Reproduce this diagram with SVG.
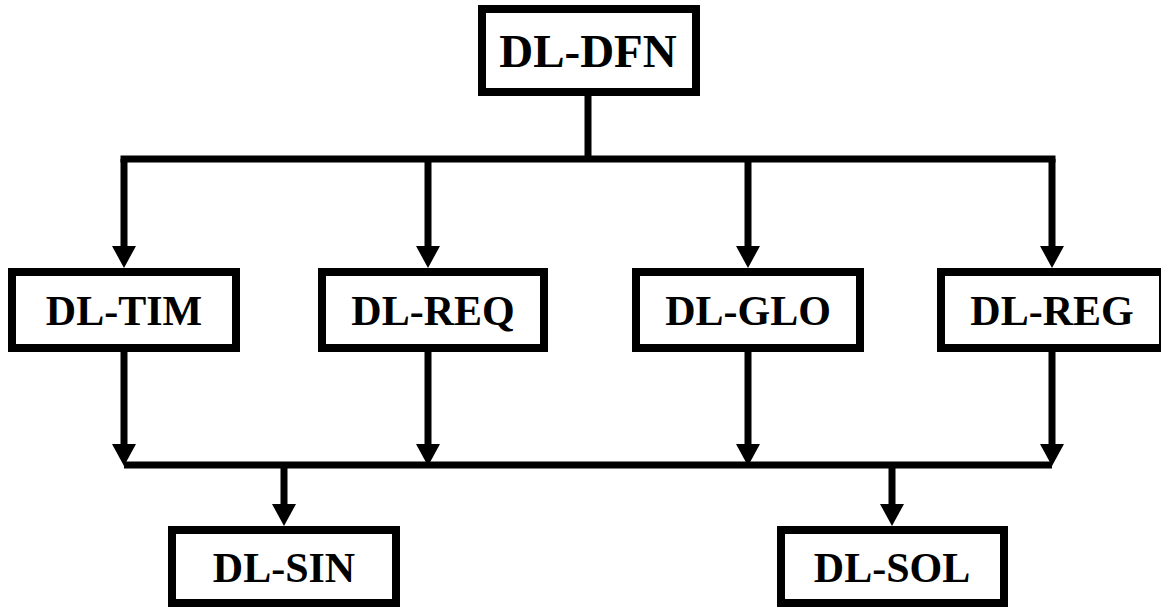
<svg xmlns="http://www.w3.org/2000/svg" width="1161" height="607" viewBox="0 0 1161 607">
  <style>
    .box { fill: #ffffff; stroke: #000000; stroke-width: 8; }
    .lbl { font-family: "Liberation Serif", "Times New Roman", serif; font-weight: bold; font-size: 42px; fill: #000000; text-anchor: middle; }
    .big { font-size: 47px; }
    .ln { stroke: #000000; stroke-width: 7; fill: none; }
    .bus { stroke: #000000; stroke-width: 7; fill: none; stroke-linecap: square; }
  </style>
  <defs>
    <marker id="arr" markerUnits="userSpaceOnUse" markerWidth="22" markerHeight="24" viewBox="0 0 22 24" refX="4" refY="12" orient="auto">
      <path d="M0,0 L22,12 L0,24 Z" fill="#000000"/>
    </marker>
  </defs>
  <rect width="1161" height="607" fill="#ffffff"/>

  <g id="connectors">
    <line class="ln" x1="588" y1="96" x2="588" y2="159"/>
    <line class="bus" x1="124" y1="159" x2="1052" y2="159"/>
    <line class="ln" x1="124" y1="159" x2="124" y2="250" marker-end="url(#arr)"/>
    <line class="ln" x1="428" y1="159" x2="428" y2="250" marker-end="url(#arr)"/>
    <line class="ln" x1="748" y1="159" x2="748" y2="250" marker-end="url(#arr)"/>
    <line class="ln" x1="1052" y1="159" x2="1052" y2="250" marker-end="url(#arr)"/>

    <line class="ln" x1="124" y1="352" x2="124" y2="448" marker-end="url(#arr)"/>
    <line class="ln" x1="428" y1="352" x2="428" y2="448" marker-end="url(#arr)"/>
    <line class="ln" x1="748" y1="352" x2="748" y2="448" marker-end="url(#arr)"/>
    <line class="ln" x1="1052" y1="352" x2="1052" y2="448" marker-end="url(#arr)"/>
    <line class="ln" x1="124" y1="465" x2="1052" y2="465"/>
    <line class="ln" x1="284" y1="465" x2="284" y2="508" marker-end="url(#arr)"/>
    <line class="ln" x1="892" y1="465" x2="892" y2="508" marker-end="url(#arr)"/>
  </g>

  <g id="dl-dfn">
    <rect class="box" x="482" y="9" width="214" height="83"/>
    <text class="lbl big" x="588" y="67">DL-DFN</text>
  </g>
  <g id="dl-tim">
    <rect class="box" x="12" y="272" width="224" height="76"/>
    <text class="lbl" x="124" y="325">DL-TIM</text>
  </g>
  <g id="dl-req">
    <rect class="box" x="322" y="272" width="222" height="76"/>
    <text class="lbl" x="433" y="325">DL-REQ</text>
  </g>
  <g id="dl-glo">
    <rect class="box" x="636" y="272" width="224" height="76"/>
    <text class="lbl" x="748" y="325">DL-GLO</text>
  </g>
  <g id="dl-reg">
    <rect class="box" x="941" y="272" width="222" height="76"/>
    <text class="lbl" x="1052" y="325">DL-REG</text>
  </g>
  <g id="dl-sin">
    <rect class="box" x="172" y="530" width="224" height="73"/>
    <text class="lbl" x="284" y="582">DL-SIN</text>
  </g>
  <g id="dl-sol">
    <rect class="box" x="781" y="530" width="223" height="73"/>
    <text class="lbl" x="892" y="582">DL-SOL</text>
  </g>
</svg>
